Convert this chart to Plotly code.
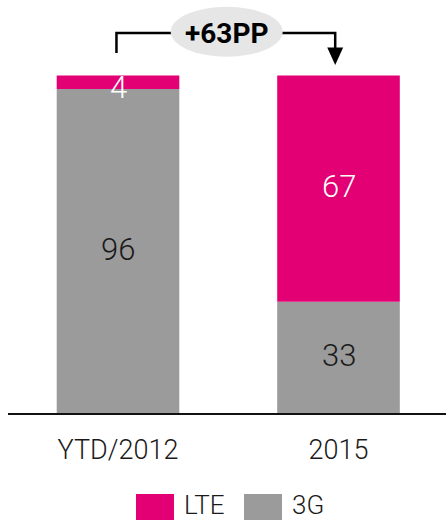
import plotly.graph_objects as go

# Network share by technology (percent of sites)
categories = ["YTD/2012", "2015"]
series_names = ["LTE", "3G"]
share_3g = [96, 33]
share_lte = [4, 67]

MAGENTA = "#e20074"
GREY = "#9b9b9b"
LABEL_FONT = "Roboto"
AXIS_FONT = "Roboto"

fig = go.Figure()

# Stacked bars: 3G at the bottom, LTE on top
fig.add_trace(go.Bar(
    x=[0, 1], y=share_3g, name=series_names[1],
    marker=dict(color=GREY, line=dict(width=0)), width=0.556,
))
fig.add_trace(go.Bar(
    x=[0, 1], y=share_lte, base=share_3g, name=series_names[0],
    marker=dict(color=MAGENTA, line=dict(width=0)), width=0.556,
))

# Value labels centred in each segment
for i in range(len(categories)):
    fig.add_annotation(
        x=i, y=share_3g[i] / 2, text=str(share_3g[i]), showarrow=False,
        font=dict(family=LABEL_FONT, size=31, color="#1a1a1a", weight=300),
        yshift=2,
    )
    small = share_lte[i] < 10
    fig.add_annotation(
        x=i, y=share_3g[i] + share_lte[i] / 2, text=str(share_lte[i]),
        showarrow=False,
        font=dict(family=LABEL_FONT, size=31, color="white", weight=300),
        yshift=-5 if small else 2,
    )

# Change bracket between the two bars
y_top = 112.6
fig.add_shape(type="path",
              path=f"M -0.007,106.7 L -0.007,{y_top} L 0.985,{y_top} L 0.985,107.5",
              xref="x", yref="y", line=dict(color="black", width=2.5))
fig.add_shape(type="path",
              path="M 0.949,108.3 L 1.021,108.3 L 0.985,103.1 Z",
              xref="x", yref="y", fillcolor="black", line=dict(width=0))
fig.add_shape(type="circle", x0=0.239, x1=0.747, y0=105.6, y1=120.4,
              xref="x", yref="y", fillcolor="#e6e6e6", line=dict(width=0))
delta = share_lte[1] - share_lte[0]
fig.add_annotation(x=0.493, y=y_top, text=f"<b>+{delta}PP</b>", showarrow=False,
                   font=dict(family=LABEL_FONT, size=28, color="black"))

# Legend drawn below the axis
legend_items = [(series_names[0], MAGENTA, 0.2922), (series_names[1], GREY, 0.5388)]
for name, color, x0 in legend_items:
    fig.add_shape(type="rect", xref="paper", yref="paper",
                  x0=x0, x1=x0 + 0.0868, y0=-0.196, y1=-0.30,
                  fillcolor=color, line=dict(width=0))
    fig.add_annotation(xref="paper", yref="paper", x=x0 + 0.105, y=-0.222,
                       text=name, showarrow=False, xanchor="left", yanchor="middle",
                       font=dict(family=AXIS_FONT, size=26, color="#1a1a1a", weight=300))

fig.update_layout(
    width=446, height=520,
    margin=dict(l=8, r=0, t=0, b=107),
    barmode="overlay",
    showlegend=False,
    plot_bgcolor="white", paper_bgcolor="white",
    xaxis=dict(
        range=[-0.4989, 1.4875], tickvals=[0, 1], ticktext=categories,
        showgrid=False, zeroline=False, showline=True, linecolor="#111", linewidth=2,
        ticks="", ticklabelstandoff=12,
        tickfont=dict(family=AXIS_FONT, size=27, color="#1a1a1a", weight=300),
    ),
    yaxis=dict(range=[0, 122.4], visible=False, showgrid=False, zeroline=False),
)

fig.write_html("out.html", config={"displayModeBar": False})
